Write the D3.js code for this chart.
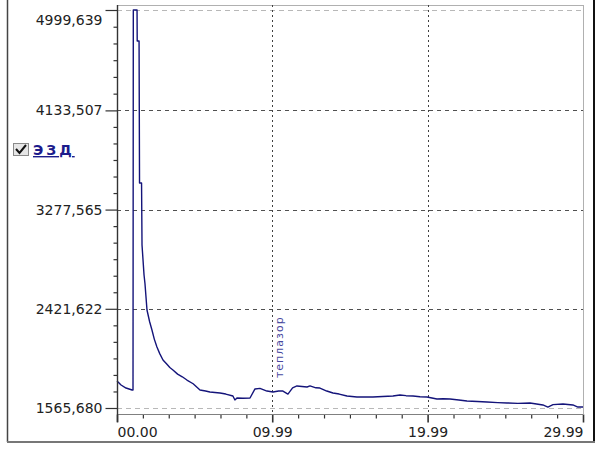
<!DOCTYPE html>
<html><head><meta charset="utf-8">
<script src="https://cdn.jsdelivr.net/npm/d3@7"></script>
<style>html,body{margin:0;padding:0;background:#fff;}svg{display:block;}</style>
</head><body>
<svg id="chart" width="607" height="450"></svg>
<script>
// ---- data ----
const times = [0, 0.26, 0.58, 0.97, 1.03, 1.05, 1.29, 1.30, 1.42, 1.45, 1.58, 1.61, 1.74, 1.80, 1.93, 2.10, 2.25, 2.40, 2.57, 2.75, 2.96, 3.20, 3.40, 3.60, 3.90, 4.20, 4.50, 4.90, 5.34, 5.70, 5.98, 6.30, 6.63, 7.00, 7.46, 7.59, 7.72, 8.10, 8.56, 8.88, 9.20, 9.65, 10.04, 10.40, 10.68, 11.00, 11.30, 11.58, 12.23, 12.42, 12.80, 13.06, 13.50, 13.90, 14.30, 14.80, 15.44, 16.00, 16.47, 17.10, 17.76, 18.21, 18.60, 19.05, 19.50, 19.95, 20.59, 21.00, 21.43, 22.00, 22.52, 23.20, 23.81, 24.50, 25.10, 25.80, 26.58, 27.00, 27.41, 27.73, 28.06, 28.70, 29.34, 29.66, 29.99];
const values = [1799, 1764, 1738, 1721, 1721, 4999.6, 4999.6, 4732, 4732, 3507, 3507, 2972, 2713, 2640, 2411, 2310, 2239, 2160, 2092, 2035, 1980, 1945, 1915, 1894, 1858, 1835, 1807, 1775, 1721, 1712, 1704, 1700, 1695, 1686, 1669, 1635, 1652, 1650, 1652, 1730, 1735, 1712, 1704, 1712, 1712, 1686, 1740, 1756, 1747, 1756, 1740, 1738, 1712, 1695, 1686, 1669, 1661, 1661, 1661, 1665, 1669, 1678, 1672, 1669, 1663, 1661, 1643, 1645, 1643, 1635, 1626, 1622, 1617, 1612, 1609, 1606, 1609, 1600, 1592, 1574, 1595, 1600, 1592, 1574, 1574];
const yTicks = [1565.680, 2421.622, 3277.565, 4133.507, 4999.639];
const yTickLabels = ["1565,680", "2421,622", "3277,565", "4133,507", "4999,639"];
const xTicks = [0, 9.99, 19.99, 29.99];
const xTickLabels = ["00.00", "09.99", "19.99", "29.99"];
const seriesName = "ЭЗД";
const annotation = {t: 10.42, v: 1824, text: "теплазор"};

// ---- layout ----
const plotLeft = 117, plotRight = 583, plotTop = 5, plotBottom = 414;
const svg = d3.select("#chart");
const x = d3.scaleLinear().domain([0, 29.99]).range([plotLeft, plotRight]);
const y = d3.scaleLinear().domain([1565.68, 4999.639]).range([408, 10]);

// outer frame
svg.append("line").attr("x1", 7.5).attr("x2", 7.5).attr("y1", 0).attr("y2", 442).attr("stroke", "#444").attr("stroke-width", 1.5);
svg.append("line").attr("x1", 594).attr("x2", 594).attr("y1", 0).attr("y2", 443).attr("stroke", "#111").attr("stroke-width", 2);
svg.append("line").attr("x1", 7).attr("x2", 595).attr("y1", 442).attr("y2", 442).attr("stroke", "#777").attr("stroke-width", 2);

// plot border (top/right light grey)
svg.append("line").attr("x1", plotLeft).attr("x2", plotRight + 0.5).attr("y1", plotTop + 0.5).attr("y2", plotTop + 0.5).attr("stroke", "#b0b0b0");
svg.append("line").attr("x1", plotRight + 0.5).attr("x2", plotRight + 0.5).attr("y1", plotTop).attr("y2", plotBottom).attr("stroke", "#b0b0b0");

// horizontal gridlines
yTicks.forEach((v, i) => {
  const edge = (i === 0 || i === yTicks.length - 1);
  svg.append("line")
    .attr("x1", plotLeft).attr("x2", plotRight)
    .attr("y1", Math.round(y(v)) + 0.5).attr("y2", Math.round(y(v)) + 0.5)
    .attr("stroke", edge ? "#b8b8b8" : "#505050")
    .attr("stroke-dasharray", edge ? "5,4" : "4,4");
});
// vertical gridlines
xTicks.slice(1, -1).forEach(t => {
  svg.append("line")
    .attr("x1", Math.round(x(t)) + 0.5).attr("x2", Math.round(x(t)) + 0.5)
    .attr("y1", plotTop).attr("y2", plotBottom)
    .attr("stroke", "#404040").attr("stroke-dasharray", "2,3");
});

// data line
const line = d3.line().x((d, i) => x(times[i])).y(d => y(d));
svg.append("path").datum(values)
  .attr("d", line)
  .attr("fill", "none").attr("stroke", "#14147a").attr("stroke-width", 1.4)
  .attr("stroke-linejoin", "round");

// annotation
svg.append("text")
  .attr("transform", `translate(${x(annotation.t)},${y(annotation.v)}) rotate(-90)`)
  .attr("font-family", "DejaVu Sans, sans-serif").attr("font-size", 11)
  .attr("letter-spacing", 1)
  .attr("fill", "#4848a0").attr("dy", "0.35em")
  .text(annotation.text);

// minor ticks
const yMinor = [];
for (let i = 0; i < yTicks.length - 1; i++) for (let k = 1; k < 6; k++) yMinor.push(yTicks[i] + (yTicks[i + 1] - yTicks[i]) * k / 6);
const xMinor = [];
for (let i = 0; i < xTicks.length - 1; i++) for (let k = 1; k < 6; k++) xMinor.push(xTicks[i] + (xTicks[i + 1] - xTicks[i]) * k / 6);

const yAxisMinor = svg.append("g").attr("transform", `translate(${plotLeft + 0.5},0)`)
  .call(d3.axisLeft(y).tickValues(yMinor).tickSize(4).tickFormat(""));
const yAxisMajor = svg.append("g").attr("transform", `translate(${plotLeft + 0.5},0)`)
  .call(d3.axisLeft(y).tickValues(yTicks).tickSize(12).tickPadding(3).tickFormat((d, i) => yTickLabels[i]));
const xAxisMinor = svg.append("g").attr("transform", `translate(0,${plotBottom + 0.5})`)
  .call(d3.axisBottom(x).tickValues(xMinor).tickSize(4).tickFormat(""));
const xAxisMajor = svg.append("g").attr("transform", `translate(0,${plotBottom + 0.5})`)
  .call(d3.axisBottom(x).tickValues(xTicks).tickSize(8).tickPadding(5).tickFormat((d, i) => xTickLabels[i]));

[yAxisMinor, yAxisMajor, xAxisMinor, xAxisMajor].forEach(g => {
  g.select(".domain").remove();
  g.selectAll("line").attr("stroke", "#333").attr("stroke-width", 1.2);
  g.selectAll("text").attr("font-family", "DejaVu Sans, sans-serif").attr("font-size", 14).attr("fill", "#222");
});
xAxisMajor.selectAll(".tick line").attr("stroke-width", 1.6);
yAxisMajor.selectAll(".tick").filter((d, i) => i === yTicks.length - 1).select("text").attr("dy", "1.0em");
xAxisMajor.selectAll(".tick text").attr("text-anchor", (d, i) => i === 0 ? "start" : (i === xTicks.length - 1 ? "end" : "middle"));

// axis lines
svg.append("line").attr("x1", plotLeft).attr("x2", plotRight).attr("y1", plotBottom + 0.5).attr("y2", plotBottom + 0.5).attr("stroke", "#808080").attr("stroke-width", 1.2);
svg.append("line").attr("x1", plotLeft + 0.5).attr("x2", plotLeft + 0.5).attr("y1", plotTop).attr("y2", plotBottom + 8).attr("stroke", "#333").attr("stroke-width", 1.4);

// legend
const lg = svg.append("g");
lg.append("rect").attr("x", 13.5).attr("y", 143.5).attr("width", 15).attr("height", 12).attr("fill", "#e6e6e6").attr("stroke", "#8a8a8a");
lg.append("path").attr("d", "M16,149 L19.5,153 L26,145").attr("fill", "none").attr("stroke", "#111").attr("stroke-width", 2);
lg.append("text").attr("x", 33).attr("y", 155)
  .attr("font-family", "DejaVu Sans, sans-serif").attr("font-size", 14).attr("font-weight", "bold")
  .attr("letter-spacing", 3).attr("fill", "#1c1c8c").attr("text-decoration", "underline")
  .text(seriesName);
</script>
</body></html>
